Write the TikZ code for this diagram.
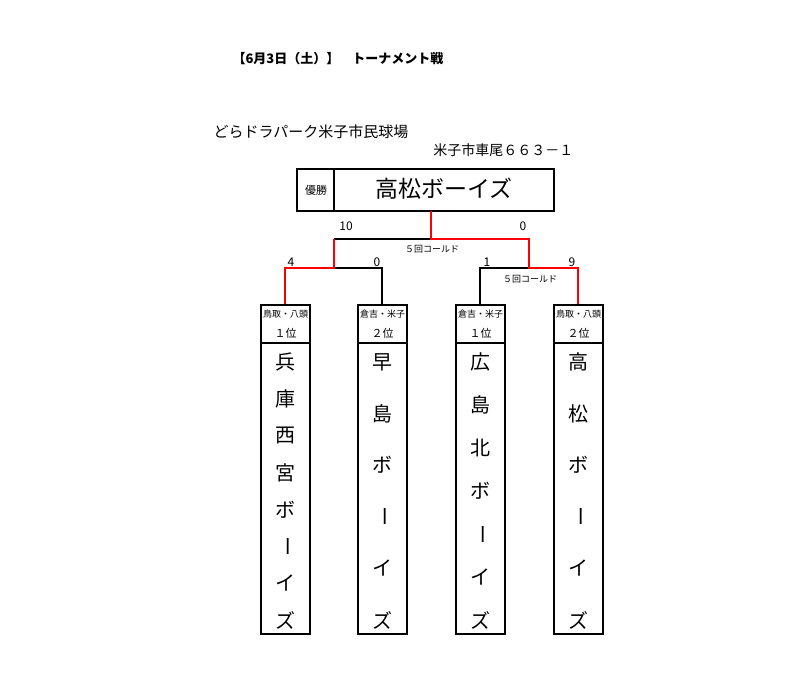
\documentclass[tikz,border=0pt]{standalone}
\usepackage{fontspec}
\setmainfont{Noto Sans CJK JP}
\newcommand\vbarchar{\rotatebox{-90}{ー}}
\begin{document}
\begin{tikzpicture}[x=1pt,y=-1pt,
  bk/.style={line width=1.5pt,black},
  rd/.style={line width=2.6pt,red},
  bx/.style={draw,line width=1.5pt},
  sm/.style={font=\fontsize{9}{10}\selectfont,inner sep=0pt},
  vc/.style={font=\fontsize{20}{22}\selectfont,inner sep=0pt}]
\useasboundingbox (0,0) rectangle (800,687);
\node[font=\bfseries\fontsize{13}{15}\selectfont,anchor=west] (title) at (229,59) {【6月3日（土）】\quad トーナメント戦};
\node[font=\fontsize{15}{16}\selectfont,anchor=west] (venue) at (210,132) {どらドラパーク米子市民球場};
\node[font=\fontsize{14}{15}\selectfont,anchor=east] (addr) at (577,150) {米子市車尾６６３－１};
\draw[bx] (297,169) rectangle (554,211);
\draw[bx] (334,169) -- (334,211);
\node[font=\fontsize{11}{12}\selectfont] (yu) at (316,190) {優勝};
\node[font=\fontsize{23}{25}\selectfont] (champ) at (444,189) {高松ボーイズ};
\coordinate (w) at (431,211);
\draw[bk] (334,239) -- (431,239);
\draw[bk] (334,268) -- (382,268) -- (382,305);
\draw[bk] (529,268) -- (480,268) -- (480,305);
\draw[rd] (w) -- (431,239) -- (529,239) -- (529,268) -- (578,268) -- (578,305);
\draw[rd] (334,239) -- (334,268) -- (285,268) -- (285,305);
\node[font=\fontsize{12}{13}\selectfont] at (346,226) {10};
\node[font=\fontsize{12}{13}\selectfont] at (523,226) {0};
\node[font=\fontsize{12}{13}\selectfont] at (291,262) {4};
\node[font=\fontsize{12}{13}\selectfont] at (377,262) {0};
\node[font=\fontsize{12}{13}\selectfont] at (487,262) {1};
\node[font=\fontsize{12}{13}\selectfont] at (572,262) {9};
\node[sm] at (432,249) {５回コールド};
\node[sm] at (530,279) {５回コールド};
\foreach \x/\a/\b in {261/鳥取・八頭/１位,358/倉吉・米子/２位,456/倉吉・米子/１位,554/鳥取・八頭/２位}{
  \draw[bx] (\x,305) rectangle (\x+49,634);
  \draw[bx] (\x,343) -- (\x+49,343);
  \node[inner sep=0pt,font=\fontsize{9}{10}\selectfont] at (\x+24.5,314) {\a};
  \node[inner sep=0pt,font=\fontsize{11}{12}\selectfont] at (\x+24.5,333) {\b};
}
\foreach \c [count=\i from 0] in {兵,庫,西,宮,ボ,\vbarchar,イ,ズ}
  \node[vc] at (285,362+\i*36.9) {\c};
\foreach \c [count=\i from 0] in {早,島,ボ,\vbarchar,イ,ズ}
  \node[vc] at (382,362+\i*51.6) {\c};
\foreach \c [count=\i from 0] in {広,島,北,ボ,\vbarchar,イ,ズ}
  \node[vc] at (480,362+\i*43) {\c};
\foreach \c [count=\i from 0] in {高,松,ボ,\vbarchar,イ,ズ}
  \node[vc] at (578,362+\i*51.6) {\c};
\end{tikzpicture}
\end{document}
